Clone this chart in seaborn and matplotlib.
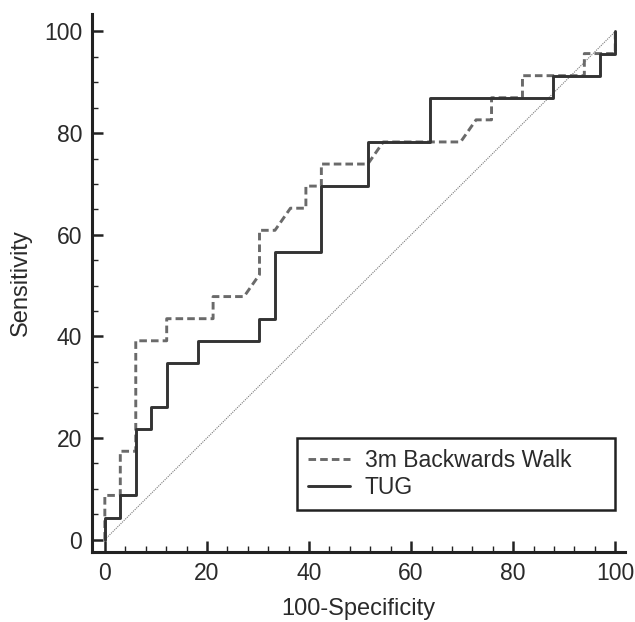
import numpy as np
import pandas as pd
import seaborn as sns
import matplotlib.pyplot as plt
from matplotlib.ticker import MultipleLocator

# ROC curve vertices (100-Specificity, Sensitivity)
tug_fpr = [0, 0, 3.03, 3.03, 6.06, 6.06, 9.09, 9.09, 12.12, 12.12, 18.18, 18.18,
           30.3, 30.3, 33.33, 33.33, 42.42, 42.42, 51.52, 51.52, 63.64, 63.64,
           87.88, 87.88, 96.97, 96.97, 100, 100]
tug_tpr = [0, 4.35, 4.35, 8.7, 8.7, 21.74, 21.74, 26.09, 26.09, 34.78, 34.78, 39.13,
           39.13, 43.48, 43.48, 56.52, 56.52, 69.57, 69.57, 78.26, 78.26, 86.96,
           86.96, 91.3, 91.3, 95.65, 95.65, 100]

bw_fpr = [0, 0, 3.03, 3.03, 6.06, 6.06, 12.12, 12.12, 21.21, 21.21, 27.27, 30.3,
          30.3, 33.33, 36.36, 39.39, 39.39, 42.42, 42.42, 51.52, 54.55, 69.7,
          72.73, 75.76, 75.76, 81.82, 81.82, 93.94, 93.94, 100, 100]
bw_tpr = [0, 8.7, 8.7, 17.39, 17.39, 39.13, 39.13, 43.48, 43.48, 47.83, 47.83, 52.17,
          60.87, 60.87, 65.22, 65.22, 69.57, 69.57, 73.91, 73.91, 78.26, 78.26,
          82.61, 82.61, 86.96, 86.96, 91.3, 91.3, 95.65, 95.65, 100]

diag = [0, 100]

sns.set_style("ticks")
plt.rcParams["font.family"] = ["Liberation Sans", "DejaVu Sans"]

fig = plt.figure(figsize=(6.35, 6.22), dpi=100)
ax = fig.add_axes([0.145, 0.112, 0.84, 0.866])

sns.lineplot(x=diag, y=diag, ax=ax, color="#7a7a7a", lw=0.8, linestyle=(0, (1, 1)))
sns.lineplot(x=bw_fpr, y=bw_tpr, ax=ax, sort=False, estimator=None, color="#6a6a6a",
             lw=2.1, linestyle=(0, (2.6, 1.4)), label="3m Backwards Walk")
sns.lineplot(x=tug_fpr, y=tug_tpr, ax=ax, sort=False, estimator=None, color="#333333",
             lw=2.1, label="TUG")

ax.set_xlim(-2.5, 102)
ax.set_ylim(-2.5, 103.5)
ax.xaxis.set_major_locator(MultipleLocator(20))
ax.xaxis.set_minor_locator(MultipleLocator(4))
ax.yaxis.set_major_locator(MultipleLocator(20))
ax.yaxis.set_minor_locator(MultipleLocator(5))
ax.tick_params(which="major", direction="in", length=8, width=1.8, labelsize=16.5,
               colors="#222222", labelcolor="#2a2a2a", pad=7)
ax.tick_params(which="minor", direction="in", length=4, width=1.0, colors="#222222")
sns.despine(ax=ax)
for s in ["left", "bottom"]:
    ax.spines[s].set_linewidth(2.2)
    ax.spines[s].set_color("#222222")

ax.set_xlabel("100-Specificity", fontsize=17, labelpad=9, color="#2a2a2a")
ax.set_ylabel("Sensitivity", fontsize=17, labelpad=9, color="#2a2a2a")

leg = ax.legend(loc="lower left", bbox_to_anchor=(0.384, 0.0785, 0.596, 0.13),
                mode="expand", borderaxespad=0, fontsize=16.5, fancybox=False,
                framealpha=1, edgecolor="#222222", handlelength=1.8,
                handletextpad=0.65, labelspacing=0.15, borderpad=0.5)
leg.get_frame().set_linewidth(1.8)
for t in leg.get_texts():
    t.set_color("#2a2a2a")

fig.savefig("out.png", dpi=100)
